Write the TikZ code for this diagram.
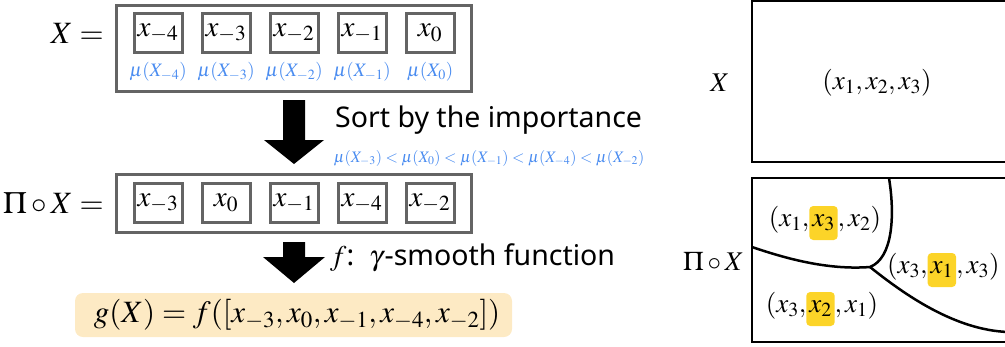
\documentclass[tikz,border=0pt]{standalone}
\usepackage[no-math]{fontspec}
\usepackage{mathptmx}
\newfontfamily\sansfont{Noto Sans}
\usetikzlibrary{calc}
\definecolor{boxgray}{RGB}{100,100,100}
\definecolor{mublue}{RGB}{74,140,240}
\definecolor{peach}{RGB}{253,234,196}
\definecolor{hl}{RGB}{252,212,40}
\newcommand{\fs}[1]{\fontsize{#1}{#1}\selectfont}
\newcommand{\hlt}[1]{\tikz[baseline=(hh.base)]\node[fill=hl,rounded corners=4pt,inner xsep=3pt,inner ysep=0pt,minimum height=34pt](hh){$#1$};}
\begin{document}
\begin{tikzpicture}[x=1pt,y=-1pt,
  outerbox/.style={draw=boxgray, line width=3pt, inner sep=0pt},
  elem/.style={draw=boxgray, line width=3pt, minimum width=48pt, minimum height=39pt, inner sep=0pt, font=\fs{29}},
  mulabel/.style={text=mublue, font=\fs{19}, inner sep=0pt},
  biglabel/.style={font=\fs{31}, inner sep=0pt},
  tuple/.style={font=\fs{27}, inner sep=0pt},
  region/.style={draw=black, line width=2.5pt},
  blockarrow/.style={fill=black},
  sanslabel/.style={font=\sansfont\fs{28.5}, inner sep=0pt}
]
\useasboundingbox (0,0) rectangle (1005,346);

% ---------- top row ----------
\node[outerbox, minimum width=355pt, minimum height=86pt] (topbox) at (293.5,48) {};
\node[biglabel, anchor=east] (Xeq) at (104,33) {$X =$};
\node[elem] (a1) at (158,33) {$x_{-4}$};
\node[elem] (a2) at (226,33) {$x_{-3}$};
\node[elem] (a3) at (294,33) {$x_{-2}$};
\node[elem] (a4) at (362,33) {$x_{-1}$};
\node[elem] (a5) at (430,33) {$x_{0}$};
\node[mulabel] (m1) at (158,72) {$\mu(X_{-4})$};
\node[mulabel] (m2) at (226,72) {$\mu(X_{-3})$};
\node[mulabel] (m3) at (294,72) {$\mu(X_{-2})$};
\node[mulabel] (m4) at (362,72) {$\mu(X_{-1})$};
\node[mulabel] (m5) at (430,72) {$\mu(X_{0})$};

% ---------- arrow 1 ----------
\coordinate (ar1) at (294,100);
\fill[blockarrow] ($(ar1)+(-11,0)$) -- ($(ar1)+(11,0)$) -- ($(ar1)+(11,40)$) -- ($(ar1)+(30,40)$)
   -- ($(ar1)+(0,64)$) -- ($(ar1)+(-30,40)$) -- ($(ar1)+(-11,40)$) -- cycle;
\node[sanslabel, anchor=west] (sort) at (335,120) {Sort by the importance};
\node[mulabel, font=\fs{16}] (order) at (489,158) {$\mu(X_{-3}) < \mu(X_0) < \mu(X_{-1}) < \mu(X_{-4}) < \mu(X_{-2})$};

% ---------- middle row ----------
\node[outerbox, minimum width=355pt, minimum height=58pt] (midbox) at (293.5,203) {};
\node[biglabel, anchor=east] (PiXeq) at (104,203) {$\Pi\mathbin{\circ}X =$};
\node[elem] (b1) at (158,203) {$x_{-3}$};
\node[elem] (b2) at (226,203) {$x_{0}$};
\node[elem] (b3) at (294,203) {$x_{-1}$};
\node[elem] (b4) at (362,203) {$x_{-4}$};
\node[elem] (b5) at (430,203) {$x_{-2}$};

% ---------- arrow 2 ----------
\coordinate (ar2) at (294,242);
\fill[blockarrow] ($(ar2)+(-11,0)$) -- ($(ar2)+(11,0)$) -- ($(ar2)+(11,15)$) -- ($(ar2)+(31,15)$)
   -- ($(ar2)+(0,41)$) -- ($(ar2)+(-31,15)$) -- ($(ar2)+(-11,15)$) -- cycle;
\node[sanslabel, anchor=west] (smooth) at (330,258) {$f$:\ \ $\gamma$\kern1.5pt-smooth function};

% ---------- result ----------
\node[fill=peach, rounded corners=8pt, minimum width=437pt, minimum height=44pt, inner sep=0pt] (gbox) at (293.5,315) {};
\node[biglabel] (gtext) at (297,315) {$g(X) = f([x_{-3}, x_0, x_{-1}, x_{-4}, x_{-2}])$};

% ---------- right: X ----------
\draw[region] (752,1) rectangle (1012,162);
\node[tuple] (Xr) at (720,83) {$X$};
\node[tuple] (t0) at (877,83) {$(x_1, x_2, x_3)$};

% ---------- right: Pi o X ----------
\draw[region] (752,178) rectangle (1012,342);
\node[tuple, anchor=east] (PiXr) at (744,261) {$\Pi\circ X$};
\coordinate (c1) at (752,247);
\coordinate (c2) at (870,267);
\coordinate (c3) at (889,178);
\coordinate (c4) at (1008,332);
\draw[region] (c1) .. controls (790,260) and (830,270) .. (c2) .. controls (893,258) and (895,215) .. (c3);
\draw[region] (c2) .. controls (905,295) and (955,330) .. (c4);
\node[tuple] (t1) at (825,223) {$(x_1,$\hlt{x_3}$, x_2)$};
\node[tuple, anchor=west] (t2) at (887,270) {$(x_3,$\hlt{x_1}$, x_3)$};
\node[tuple] (t3) at (822,309) {$(x_3,$\hlt{x_2}$, x_1)$};
\end{tikzpicture}
\end{document}
